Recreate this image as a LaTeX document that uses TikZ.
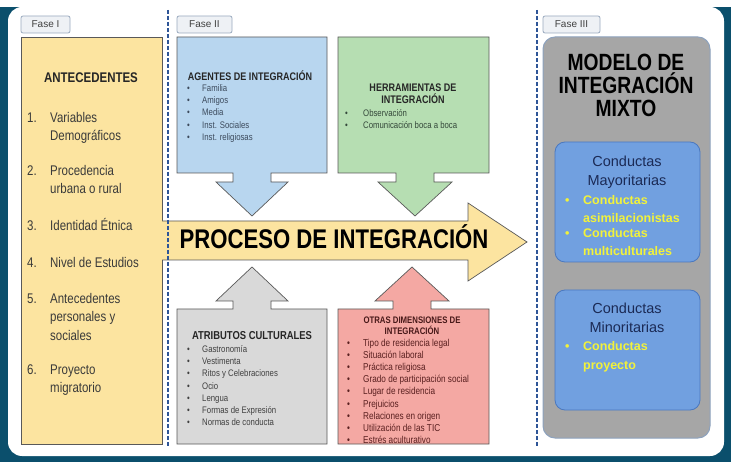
\documentclass[tikz,border=0pt]{standalone}
\usepackage{fontspec}
\setmainfont{Liberation Sans}
\newfontfamily\narrowsf[FakeStretch=0.82]{Liberation Sans}
\usetikzlibrary{positioning,calc}
\definecolor{frameteal}{HTML}{0B4F6C}
\definecolor{antefill}{HTML}{FCE4A0}
\definecolor{agentfill}{HTML}{B8D6EF}
\definecolor{herrfill}{HTML}{B6DEB2}
\definecolor{atrifill}{HTML}{D9D9D9}
\definecolor{otrafill}{HTML}{F4A8A3}
\definecolor{modelfill}{HTML}{A6A6A6}
\definecolor{modelbord}{HTML}{8DA2BE}
\definecolor{condfill}{HTML}{71A0E0}
\definecolor{condbord}{HTML}{4A78C0}
\definecolor{condtext}{HTML}{1B2A55}
\definecolor{condyel}{HTML}{F2F23A}
\definecolor{fasefill}{HTML}{EEF1F5}
\definecolor{fasebord}{HTML}{9AAABF}
\definecolor{dashblue}{HTML}{2E5597}
\definecolor{antetext}{HTML}{3A3A3A}
\definecolor{agenttext}{HTML}{3C4A5C}
\definecolor{herrtext}{HTML}{34483A}
\definecolor{otratext}{HTML}{5A2020}

\tikzset{
  boxline/.style={draw=black!65, line width=0.7pt},
  phase/.style={draw=fasebord, fill=fasefill, rounded corners=2pt, line width=0.8pt},
  phasetext/.style={font=\fontsize{10}{12}\selectfont, text=black!75},
  heading/.style={font=\narrowsf\bfseries\fontsize{11}{12}\selectfont, align=center},
  item/.style={anchor=base west, font=\narrowsf\fontsize{9.5}{11}\selectfont},
  antetext/.style={anchor=north west, align=left, text=antetext, font=\narrowsf\fontsize{14}{18.5}\selectfont},
  condhead/.style={align=center, text=condtext, font=\fontsize{14.5}{19.5}\selectfont},
  yelitem/.style={anchor=base west, text=condyel, font=\bfseries\fontsize{12.5}{14}\selectfont},
}

\begin{document}
\begin{tikzpicture}[x=1pt, y=-1pt, every node/.style={inner sep=0pt}]
\useasboundingbox (0,0) rectangle (731,462);
\fill[white] (0,0) rectangle (731,462);
\fill[frameteal] (0,7) rectangle (731,462);
\fill[white, rounded corners=14pt] (8,7) rectangle (724,456);

\draw[phase] (21,16) rectangle (70,33); \node[phasetext] (f1) at (45.5,24.5) {Fase I};
\draw[phase] (177,16) rectangle (232,33); \node[phasetext] (f2) at (204.5,24.5) {Fase II};
\draw[phase] (543,16) rectangle (600,33); \node[phasetext] (f3) at (571.5,24.5) {Fase III};

\draw[boxline, fill=antefill] (21,37) rectangle (162,444);
\fill[antefill] (160,221) -- (468,221) -- (468,203) -- (527,242) -- (468,281) -- (468,260) -- (160,260) -- cycle;
\draw[boxline] (162,221) -- (468,221) -- (468,203) -- (527,242) -- (468,281) -- (468,260) -- (162,260);
\node[font=\narrowsf\bfseries\fontsize{27}{30}\selectfont] (proc) at (334,237) {PROCESO DE INTEGRACIÓN};

\node[font=\narrowsf\bfseries\fontsize{14}{16}\selectfont, text=black!85] (ante) at (91,78) {ANTECEDENTES};
\foreach \n/\y/\t in {1/109/{Variables\\Demográficos}, 2/162/{Procedencia\\urbana o rural}, 3/217/{Identidad Étnica}, 4/254/{Nivel de Estudios}, 5/290/{Antecedentes\\personales y\\sociales}, 6/361/{Proyecto\\migratorio}} {
  \node[antetext] (num\n) at (27,\y) {\strut\n.};
  \node[antetext] (ant\n) at (50,\y) {\strut\t};
}

\draw[boxline, fill=agentfill] (177,37) -- (327,37) -- (327,173) -- (271,173) -- (271,182) -- (288,182) -- (252,216) -- (216,182) -- (233,182) -- (233,173) -- (177,173) -- cycle;
\draw[boxline, fill=herrfill] (338,37) -- (489,37) -- (489,173) -- (434,173) -- (434,182) -- (452,182) -- (415,216) -- (378,182) -- (396,182) -- (396,173) -- (338,173) -- cycle;
\draw[boxline, fill=atrifill] (177,444) -- (177,309) -- (233,309) -- (233,301) -- (216,301) -- (252,267) -- (288,301) -- (271,301) -- (271,309) -- (327,309) -- (327,444) -- cycle;
\draw[boxline, fill=otrafill] (338,444) -- (338,309) -- (393,309) -- (393,301) -- (375,301) -- (412,267) -- (449,301) -- (431,301) -- (431,309) -- (489,309) -- (489,444) -- cycle;

\node[heading, text=black!85] (agent) at (250,76) {AGENTES DE INTEGRACIÓN};
\foreach \t [count=\i] in {Familia, Amigos, Media, Inst. Sociales, Inst. religiosas} {
  \node[item, text=agenttext] (agb\i) at (187,{79.25+12.25*\i}) {•};
  \node[item, text=agenttext] (ag\i) at (202,{79.25+12.25*\i}) {\t};
}

\node[heading, text=black!85] (herr) at (413,94) {HERRAMIENTAS DE\\INTEGRACIÓN};
\foreach \t [count=\i] in {Observación, Comunicación boca a boca} {
  \node[item, text=herrtext] (heb\i) at (345,{104.5+12*\i}) {•};
  \node[item, text=herrtext] (he\i) at (363,{104.5+12*\i}) {\t};
}

\node[heading, font=\narrowsf\bfseries\fontsize{11.5}{12}\selectfont, text=black!85] (atri) at (252,336) {ATRIBUTOS CULTURALES};
\foreach \t [count=\i] in {Gastronomía, Vestimenta, Ritos y Celebraciones, Ocio, Lengua, Formas de Expresión, Normas de conducta} {
  \node[item, text=black!75] (atb\i) at (187,{340.3+12.2*\i}) {•};
  \node[item, text=black!75] (at\i) at (202,{340.3+12.2*\i}) {\t};
}

\node[heading, font=\narrowsf\bfseries\fontsize{9.5}{11.5}\selectfont, text=otratext!80!black] (otra) at (412,325.5) {OTRAS DIMENSIONES DE\\INTEGRACIÓN};
\foreach \t [count=\i] in {Tipo de residencia legal, Situación laboral, Práctica religiosa, Grado de participación social, Lugar de residencia, Prejuicios, Relaciones en origen, Utilización de las TIC, Estrés aculturativo} {
  \node[item, font=\narrowsf\fontsize{10}{11}\selectfont, text=otratext] (otb\i) at (347,{334.4+12.1*\i}) {•};
  \node[item, font=\narrowsf\fontsize{10}{11}\selectfont, text=otratext] (ot\i) at (363,{334.4+12.1*\i}) {\t};
}

\draw[draw=modelbord, fill=modelfill, rounded corners=12pt, line width=1pt] (543,37) rectangle (710,438);
\node[align=center, font=\narrowsf\bfseries\fontsize{23.5}{23}\selectfont] (modelo) at (626,85) {MODELO DE\\INTEGRACIÓN\\MIXTO};
\draw[draw=condbord, fill=condfill, rounded corners=10pt, line width=0.8pt] (555,142) rectangle (700,262);
\draw[draw=condbord, fill=condfill, rounded corners=10pt, line width=0.8pt] (555,290) rectangle (700,410);
\node[condhead] (mayo) at (627,172.5) {Conductas\\Mayoritarias};
\node[condhead] (mino) at (627,318) {Conductas\\Minoritarias};
\foreach \y in {204.5,238,351} \node[yelitem] at (565,\y) {•};
\foreach \y/\t [count=\i] in {204.5/Conductas, 222.5/asimilacionistas, 238/Conductas, 256/multiculturales, 351/Conductas, 369/proyecto}
  \node[yelitem] (cy\i) at (583,\y) {\t};

\foreach \x in {168,537} \draw[dashblue, line width=1.3pt, dash pattern=on 4pt off 2pt] (\x,10) -- (\x,447);
\end{tikzpicture}
\end{document}
